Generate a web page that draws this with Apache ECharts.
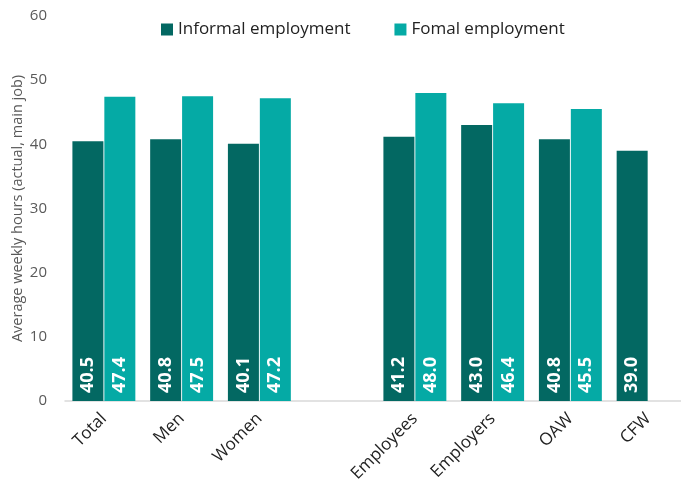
<!DOCTYPE html>
<html>
<head>
<meta charset="utf-8">
<script src="https://cdn.jsdelivr.net/npm/echarts@6/dist/echarts.min.js"></script>
<style>
  html, body { margin: 0; padding: 0; background: #fff; }
  #main { width: 681px; height: 488px; }
</style>
</head>
<body>
<div id="main"></div>
<script>
// chart data
const categories = ["Total", "Men", "Women", "", "Employees", "Employers", "OAW", "CFW"];
const informal = [40.5, 40.8, 40.1, "-", 41.2, 43.0, 40.8, 39.0];
const formal = [47.4, 47.5, 47.2, "-", 48.0, 46.4, 45.5, "-"];
const yTicks = [0, 10, 20, 30, 40, 50, 60];

const font = "'Open Sans', 'Liberation Sans', sans-serif";

const barLabel = {
  show: true,
  position: "insideBottom",
  rotate: 90,
  align: "left",
  verticalAlign: "middle",
  distance: 8,
  color: "#fff",
  fontWeight: "bold",
  fontSize: 18,
  fontFamily: font,
  formatter: p => Number(p.value).toFixed(1)
};

let chart = echarts.init(document.getElementById("main"));
chart.setOption({
  animation: false,
  textStyle: { fontFamily: font },
  legend: {
    top: 16,
    left: 156,
    itemWidth: 12,
    itemHeight: 12,
    itemGap: 44,
    icon: "rect",
    textStyle: { fontSize: 17, color: "#222", fontFamily: font },
    data: ["Informal employment", "Fomal employment"]
  },
  grid: { left: 65, top: 16, width: 622, bottom: 87, containLabel: false, outerBoundsMode: "none" },
  xAxis: {
    type: "category",
    data: categories,
    axisLine: { lineStyle: { color: "#d9d9d9", width: 1.5 } },
    axisTick: { show: false },
    axisLabel: {
      rotate: 45,
      interval: 0,
      fontSize: 17,
      color: "#222",
      margin: 15,
      fontFamily: font
    }
  },
  yAxis: {
    type: "value",
    min: yTicks[0],
    max: yTicks[yTicks.length - 1],
    interval: 10,
    name: "Average weekly hours (actual, main job)",
    nameLocation: "middle",
    nameGap: 40,
    nameMoveOverlap: false,
    nameTextStyle: { fontSize: 14.5, color: "#595959", fontFamily: font },
    axisLine: { show: false },
    axisTick: { show: false },
    splitLine: { show: false },
    axisLabel: { fontSize: 15, color: "#595959", margin: 18, fontFamily: font }
  },
  series: [
    {
      name: "Informal employment",
      type: "bar",
      data: informal,
      color: "#036862",
      barWidth: 31,
      barGap: "3%",
      label: barLabel
    },
    {
      name: "Fomal employment",
      type: "bar",
      data: formal,
      color: "#05aaa5",
      barWidth: 31,
      label: barLabel
    }
  ]
});
</script>
</body>
</html>
